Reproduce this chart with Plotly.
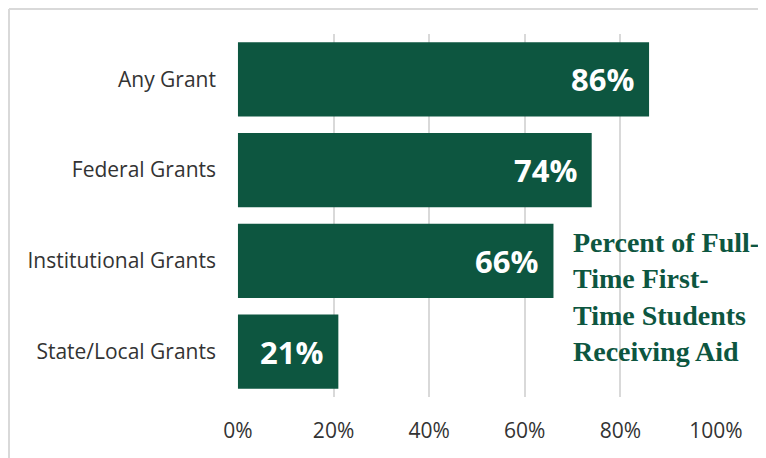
import plotly.graph_objects as go

categories = ["Any Grant", "Federal Grants", "Institutional Grants", "State/Local Grants"]
values = [0.86, 0.74, 0.66, 0.21]
value_labels = ["86%", "74%", "66%", "21%"]
tick_vals = [0, 0.2, 0.4, 0.6, 0.8, 1.0]
tick_text = ["0%", "20%", "40%", "60%", "80%", "100%"]
note_text = "Percent of Full-<br>Time First-<br>Time Students<br>Receiving Aid"

GREEN = "#0D5640"
GRID = "#D9D9D9"
TEXT = "#333333"

# page body has an 8px margin, so the figure is drawn 8px in from the window edge
OFF = 8
W, H = 766 - OFF, 458 - OFF
L, R, T, B = 237 - OFF, 50, 34 - OFF, 61
pw, ph = W - L - R, H - T - B

fig = go.Figure()
fig.add_trace(go.Bar(
    y=categories, x=values, orientation="h",
    marker=dict(color=GREEN, line=dict(width=0)),
    hoverinfo="skip",
))

for cat, v, lab in zip(categories, values, value_labels):
    fig.add_annotation(
        x=v, y=cat, xref="x", yref="y", text=lab, showarrow=False,
        xanchor="right", xshift=-13,
        font=dict(family="Open Sans", size=31, color="white", weight="bold"),
    )

fig.add_annotation(
    xref="paper", yref="paper", x=(563 - L) / pw, y=(H - B - 217) / ph,
    xanchor="left", yanchor="top", align="left", showarrow=False,
    text=note_text,
    font=dict(family="Liberation Serif", size=28, color=GREEN, weight="bold"),
)

# chart frame border (left and top edges visible)
fx0 = (1 - L) / pw
fy1 = (H - B - 1) / ph
fig.add_shape(type="line", xref="paper", yref="paper", x0=fx0, x1=fx0, y0=-0.3, y1=fy1,
              line=dict(color=GRID, width=2))
fig.add_shape(type="line", xref="paper", yref="paper", x0=fx0, x1=1.3, y0=fy1, y1=fy1,
              line=dict(color=GRID, width=2))

fig.update_layout(
    width=W, height=H,
    margin=dict(l=L, r=R, t=T, b=B),
    paper_bgcolor="white", plot_bgcolor="white",
    bargap=0.18, showlegend=False,
    font=dict(family="Open Sans", size=21, color=TEXT),
    xaxis=dict(
        range=[-0.002, 1.0], tickvals=tick_vals, ticktext=tick_text,
        showgrid=True, gridcolor=GRID, gridwidth=2,
        zeroline=False, showline=False, ticks="",
        ticklabelstandoff=19, tickfont=dict(family="Open Sans", size=21, color=TEXT),
        fixedrange=True,
    ),
    yaxis=dict(
        categoryorder="array", categoryarray=categories[::-1],
        showgrid=False, zeroline=False, showline=False, ticks="",
        ticklabelstandoff=20, tickfont=dict(family="Open Sans", size=21, color=TEXT),
        fixedrange=True,
    ),
)

fig.write_html("out.html")
